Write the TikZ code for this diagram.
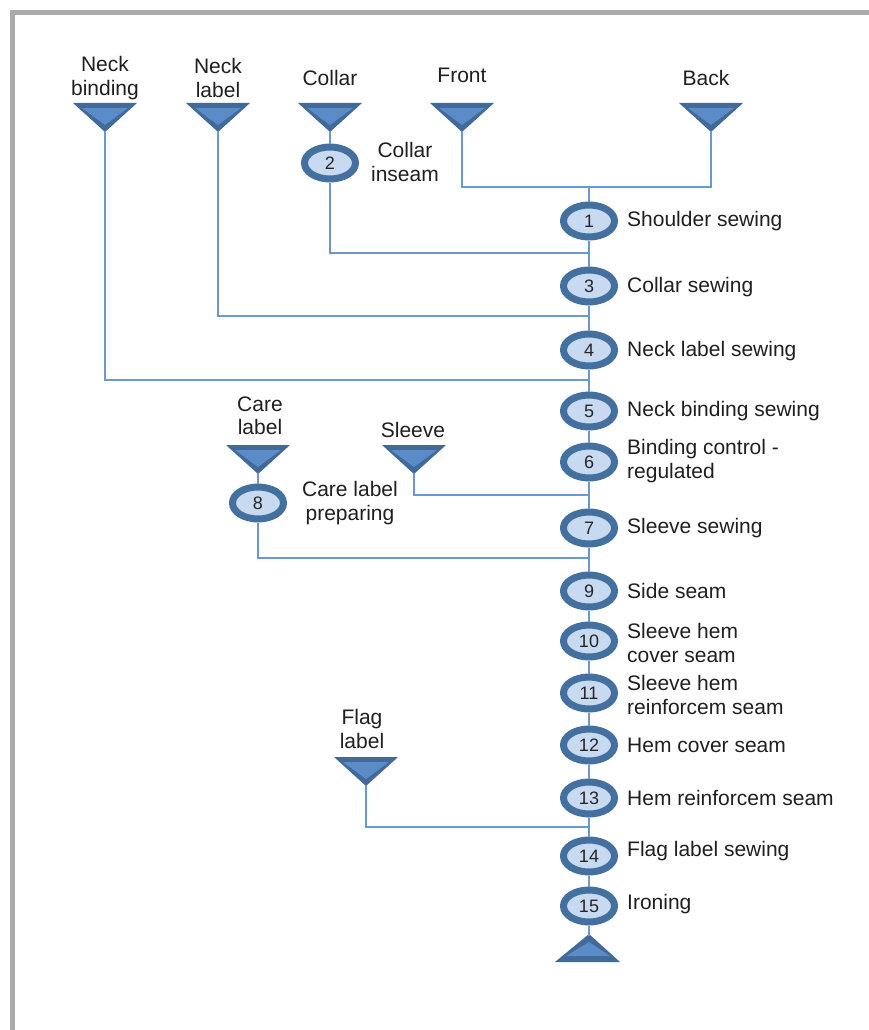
\documentclass[tikz,border=0pt]{standalone}
\usepackage{fontspec}
\setmainfont{Liberation Sans}
\usetikzlibrary{shapes.geometric}
\definecolor{framegray}{HTML}{ABABAB}
\definecolor{linecol}{HTML}{6A98D2}
\definecolor{tridark}{HTML}{41699A}
\definecolor{trilight}{HTML}{5B8CC8}
\definecolor{elldark}{HTML}{44709F}
\definecolor{elllight}{HTML}{C8DAF1}
\newcommand{\downtri}[3]{%
  \fill[tridark] (#1-32,#2) -- (#1+32,#2) -- (#1,#2+29) -- cycle;
  \fill[trilight] (#1-23,#2+5) -- (#1+23,#2+5) -- (#1,#2+22) -- cycle;
  \coordinate (#3) at (#1,#2+28);}
\tikzset{
  conn/.style={draw=linecol, line width=1.6pt},
  opnode/.style={ellipse, draw=elldark, line width=7pt, fill=elllight,
    minimum width=51pt, minimum height=32pt, inner sep=0pt,
    font=\fontsize{18}{20}\selectfont, text=black!85},
  lbl/.style={font=\fontsize{21}{23.5}\selectfont, text=black!88, align=center, inner sep=0pt},
  rlbl/.style={lbl, anchor=west, align=left},
}
\begin{document}
\begin{tikzpicture}[x=1pt,y=-1pt]
\useasboundingbox (0,0) rectangle (869,1030);
% frame
\draw[framegray, line width=5pt] (12.5,1030) -- (12.5,12.5) -- (869,12.5);

% main junction coordinates
\coordinate (jtop) at (589,187);
\coordinate (j3) at (589,253);
\coordinate (j4) at (589,316);
\coordinate (j5) at (589,380);
\coordinate (j7) at (589,495);
\coordinate (j9) at (589,558);
\coordinate (j14) at (589,827);
\coordinate (tout) at (589,936);

% operation nodes
\node[opnode] (n1) at (589,221) {1};
\node[opnode] (n2) at (330,163) {2};
\node[opnode] (n3) at (589,286) {3};
\node[opnode] (n4) at (589,350) {4};
\node[opnode] (n5) at (589,411) {5};
\node[opnode] (n6) at (589,462) {6};
\node[opnode] (n7) at (589,528) {7};
\node[opnode] (n8) at (258,503) {8};
\node[opnode] (n9) at (589,591) {9};
\node[opnode] (n10) at (589,641) {10};
\node[opnode] (n11) at (589,693) {11};
\node[opnode] (n12) at (589,745) {12};
\node[opnode] (n13) at (589,798) {13};
\node[opnode] (n14) at (589,856) {14};
\node[opnode] (n15) at (589,906) {15};

% input triangles
\downtri{105}{103}{tnb}
\downtri{218}{103}{tnl}
\downtri{330}{103}{tcol}
\downtri{462}{103}{tfr}
\downtri{711}{103}{tbk}
\downtri{258}{445}{tcare}
\downtri{414}{445}{tsl}
\downtri{366}{757}{tflag}

% output triangle
\fill[tridark] (555,962) -- (620,962) -- (589,934) -- cycle;
\fill[trilight] (566,956) -- (610,956) -- (589,942) -- cycle;

% connectors
\draw[conn] (tfr) |- (jtop);
\draw[conn] (tbk) |- (jtop);
\draw[conn] (jtop) -- (n1);
\draw[conn] (n1) -- (n3);
\draw[conn] (n3) -- (n4);
\draw[conn] (n4) -- (n5);
\draw[conn] (n5) -- (n6);
\draw[conn] (n6) -- (n7);
\draw[conn] (n7) -- (n9);
\draw[conn] (n9) -- (n10);
\draw[conn] (n10) -- (n11);
\draw[conn] (n11) -- (n12);
\draw[conn] (n12) -- (n13);
\draw[conn] (n13) -- (n14);
\draw[conn] (n14) -- (n15);
\draw[conn] (n15) -- (tout);
\draw[conn] (tcol) -- (n2);
\draw[conn] (n2) |- (j3);
\draw[conn] (tnl) |- (j4);
\draw[conn] (tnb) |- (j5);
\draw[conn] (tsl) |- (j7);
\draw[conn] (tcare) -- (n8);
\draw[conn] (n8) |- (j9);
\draw[conn] (tflag) |- (j14);

% top labels
\node[lbl] (lnb) at (105,78) {Neck\\binding};
\node[lbl] (lnl) at (218,78) {Neck\\label};
\node[lbl] (lcol) at (330,78) {Collar};
\node[lbl] (lfr) at (462,75) {Front};
\node[lbl] (lbk) at (706,78) {Back};
\node[lbl] (lci) at (405,162) {Collar\\inseam};
\node[lbl] (lcare) at (260,416) {Care\\label};
\node[lbl] (lsl) at (413,430) {Sleeve};
\node[lbl] (lclp) at (350,503) {Care label\\preparing};
\node[lbl] (lflag) at (362,729) {Flag\\label};

% right labels
\node[rlbl] (r1) at (627,221) {Shoulder sewing};
\node[rlbl] (r3) at (627,287) {Collar sewing};
\node[rlbl] (r4) at (627,351) {Neck label sewing};
\node[rlbl] (r5) at (627,411) {Neck binding sewing};
\node[rlbl] (r6) at (627,461) {Binding control -\\regulated};
\node[rlbl] (r7) at (627,528) {Sleeve sewing};
\node[rlbl] (r9) at (627,591) {Side seam};
\node[rlbl] (r10) at (627,643) {Sleeve hem\\cover seam};
\node[rlbl] (r11) at (627,695) {Sleeve hem\\reinforcem seam};
\node[rlbl] (r12) at (627,745) {Hem cover seam};
\node[rlbl] (r13) at (627,798) {Hem reinforcem seam};
\node[rlbl] (r14) at (627,851) {Flag label sewing};
\node[rlbl] (r15) at (627,904) {Ironing};
\end{tikzpicture}
\end{document}
